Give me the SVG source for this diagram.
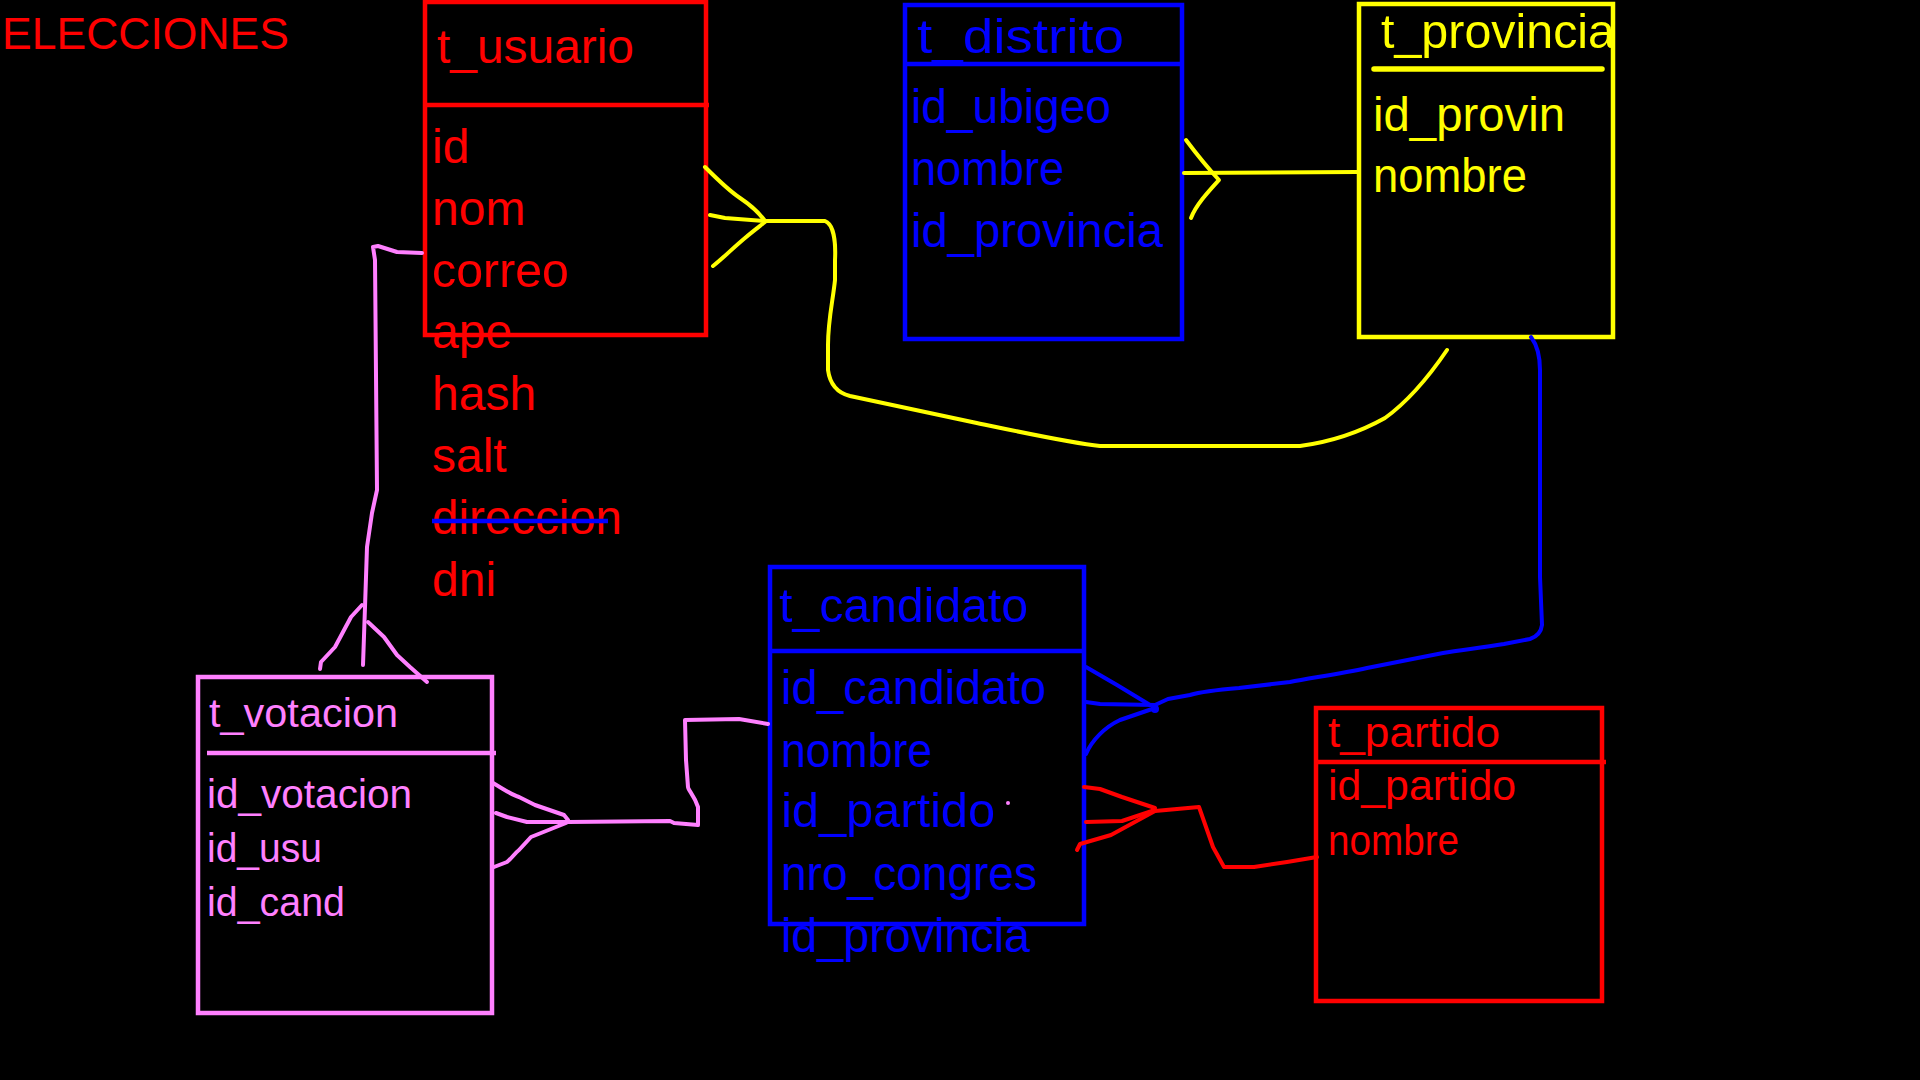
<svg xmlns="http://www.w3.org/2000/svg" width="1920" height="1080" viewBox="0 0 1920 1080">
<style>
text{font-family:"Liberation Sans","DejaVu Sans",sans-serif;}
.box{fill:none;stroke-width:4.5;}
.r{fill:#FF0000;} .b{fill:#0000FF;} .y{fill:#FFFF00;} .p{fill:#FF80FF;}
.sr{stroke:#FF0000;} .sb{stroke:#0000FF;} .sy{stroke:#FFFF00;} .sp{stroke:#FF80FF;}
.c{fill:none;stroke-width:4;stroke-linecap:round;stroke-linejoin:round;}
.t48{font-size:48px;} .t44{font-size:44px;} .t42{font-size:42px;} .t40{font-size:40px;}
</style>
<rect x="0" y="0" width="1920" height="1080" fill="#000000"/>

<text id="title" class="r t44" x="2" y="49" textLength="287" lengthAdjust="spacingAndGlyphs">ELECCIONES</text>

<g id="t_usuario">
<rect class="box sr" x="425" y="2" width="281" height="333"/>
<line class="box sr" x1="423" y1="105" x2="709" y2="105"/>
<text class="r t48" x="437" y="63" textLength="197" lengthAdjust="spacingAndGlyphs">t_usuario</text>
<text class="r t48" x="432" y="163">id</text>
<text class="r t48" x="432" y="225">nom</text>
<text class="r t48" x="432" y="287" textLength="137" lengthAdjust="spacingAndGlyphs">correo</text>
<text class="r t48" x="432" y="348">ape</text>
<text class="r t48" x="432" y="410">hash</text>
<text class="r t48" x="432" y="472">salt</text>
<text class="r t48" x="432" y="534" textLength="190" lengthAdjust="spacingAndGlyphs">direccion</text>
<line x1="432" y1="521" x2="608" y2="521" stroke="#0000FF" stroke-width="4.5"/>
<text class="r t48" x="432" y="596">dni</text>
</g>

<g id="t_distrito">
<rect class="box sb" x="905" y="5" width="277" height="334"/>
<line class="box sb" x1="903" y1="64" x2="1182" y2="64"/>
<text class="b t48" x="917" y="53" textLength="207" lengthAdjust="spacingAndGlyphs">t_distrito</text>
<text class="b t48" x="911" y="123" textLength="200" lengthAdjust="spacingAndGlyphs">id_ubigeo</text>
<text class="b t48" x="911" y="185" textLength="153" lengthAdjust="spacingAndGlyphs">nombre</text>
<text class="b t48" x="911" y="247" textLength="252" lengthAdjust="spacingAndGlyphs">id_provincia</text>
</g>

<g id="t_provincia">
<rect class="box sy" x="1359" y="4" width="254" height="333"/>
<line class="sy" x1="1374" y1="69" x2="1602" y2="69" stroke-width="5.5" stroke-linecap="round"/>
<text class="y t48" x="1381" y="48" textLength="234" lengthAdjust="spacingAndGlyphs">t_provincia</text>
<text class="y t48" x="1373" y="131" textLength="192" lengthAdjust="spacingAndGlyphs">id_provin</text>
<text class="y t48" x="1373" y="192" textLength="154" lengthAdjust="spacingAndGlyphs">nombre</text>
</g>

<g id="t_candidato">
<rect class="box sb" x="770" y="567" width="314" height="357"/>
<line class="box sb" x1="770" y1="651" x2="1086" y2="651"/>
<text class="b t48" x="779" y="622" textLength="249" lengthAdjust="spacingAndGlyphs">t_candidato</text>
<text class="b t48" x="781" y="704" textLength="265" lengthAdjust="spacingAndGlyphs">id_candidato</text>
<text class="b t48" x="781" y="767" textLength="151" lengthAdjust="spacingAndGlyphs">nombre</text>
<text class="b t48" x="781" y="827" textLength="214" lengthAdjust="spacingAndGlyphs">id_partido</text>
<circle cx="1008" cy="803" r="2" fill="#FF80FF"/>
<text class="b t48" x="781" y="890" textLength="256" lengthAdjust="spacingAndGlyphs">nro_congres</text>
<text class="b t48" x="781" y="952" textLength="249" lengthAdjust="spacingAndGlyphs">id_provincia</text>
</g>

<g id="t_partido">
<rect class="box sr" x="1316" y="708" width="286" height="293"/>
<line class="box sr" x1="1316" y1="762" x2="1606" y2="762"/>
<text class="r t42" x="1328" y="747" textLength="172" lengthAdjust="spacingAndGlyphs">t_partido</text>
<text class="r t42" x="1328" y="800" textLength="188" lengthAdjust="spacingAndGlyphs">id_partido</text>
<text class="r t42" x="1328" y="855" textLength="131" lengthAdjust="spacingAndGlyphs">nombre</text>
</g>

<g id="t_votacion">
<rect class="box sp" x="198" y="677" width="294" height="336"/>
<line class="box sp" x1="207" y1="753" x2="496" y2="753"/>
<text class="p t40" x="209" y="727" textLength="189" lengthAdjust="spacingAndGlyphs">t_votacion</text>
<text class="p t40" x="207" y="808" textLength="205" lengthAdjust="spacingAndGlyphs">id_votacion</text>
<text class="p t40" x="207" y="862" textLength="115" lengthAdjust="spacingAndGlyphs">id_usu</text>
<text class="p t40" x="207" y="916" textLength="138" lengthAdjust="spacingAndGlyphs">id_cand</text>
</g>

<g id="connectors">
<!-- t_usuario to t_provincia (yellow) -->
<path class="c sy" d="M705,167 C718,180 728,190 740,198 C752,206 760,214 765,221"/>
<path class="c sy" d="M710,215 L725,218 L765,221"/>
<path class="c sy" d="M713,266 C722,259 733,248 745,238 C752,232 760,226 765,222"/>
<path class="c sy" d="M765,221 L825,221 C833,224 836,240 835,260 L835,280 C833,300 828,320 828,345 L828,370 C830,385 838,393 850,396 L972,422 C1020,432 1070,443 1100,446 L1300,446 C1330,442 1360,432 1385,418 C1410,400 1430,375 1447,350"/>
<!-- t_distrito to t_provincia (yellow) -->
<path class="c sy" d="M1184,173 L1357,172"/>
<path class="c sy" d="M1186,140 C1195,152 1205,165 1219,180 C1208,192 1196,205 1191,218"/>
<!-- t_provincia to t_candidato (blue) -->
<path class="c sb" d="M1531,337 C1537,345 1540,355 1540,370 L1540,577 L1542,625 C1541,633 1536,637 1530,639 L1504,644 C1480,648 1460,650 1443,653 L1367,668 C1340,674 1310,678 1290,682 L1239,688 C1215,690 1200,692 1190,695 L1168,699 L1155,705"/>
<path class="c sb" d="M1086,667 L1117,685 L1150,705"/>
<path class="c sb" d="M1086,702 L1100,704 L1155,705"/>
<path class="c sb" d="M1086,754 C1092,740 1105,727 1120,720 L1155,708"/>
<circle cx="1155" cy="709" r="4" fill="#0000FF"/>
<!-- t_candidato to t_partido (red) -->
<path class="c sr" d="M1084,787 L1100,789 L1122,797 L1155,808"/>
<path class="c sr" d="M1086,822 L1122,821 L1155,810"/>
<path class="c sr" d="M1077,850 L1080,844 L1111,835 L1144,817 L1155,811"/>
<path class="c sr" d="M1155,811 L1199,807 L1213,847 L1224,867 L1254,867 L1287,862 L1317,857"/>
<!-- t_votacion to t_candidato (pink) -->
<path class="c sp" d="M493,783 C505,790 512,795 519,797 L535,805 L564,815 L568,820"/>
<path class="c sp" d="M496,813 L507,817 L527,822 L568,822"/>
<path class="c sp" d="M494,867 L507,862 C512,858 515,853 519,850 L531,837 L566,823"/>
<path class="c sp" d="M568,822 L670,821 L674,823 L698,825 L698,807 C694,795 688,790 688,787 L686,760 L685,720 L739,719 L768,724"/>
<!-- t_usuario to t_votacion (pink) -->
<path class="c sp" d="M422,253 L397,252 L378,246 L373,247 L375,260 L377,490 L372,513 L367,547 L365,607 L363,665"/>
<path class="c sp" d="M362,605 L351,617 L335,647 L321,662 L320,669"/>
<path class="c sp" d="M368,622 L384,637 L397,655 L410,667 L427,682"/>
</g>
</svg>
